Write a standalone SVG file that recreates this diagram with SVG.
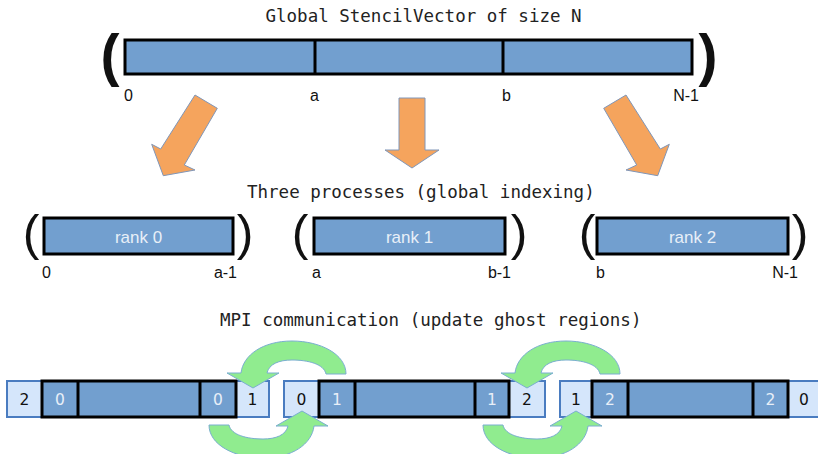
<svg xmlns="http://www.w3.org/2000/svg" width="818" height="454" viewBox="0 0 818 454">
  <style>
    .title { font-family: "DejaVu Sans Mono", monospace; font-size: 17.5px; fill: #222; }
    .lbl { font-family: "Liberation Sans", Arial, sans-serif; font-size: 16px; fill: #111; }
    .par { font-family: "Liberation Sans", Arial, sans-serif; fill: #111; text-anchor: middle; }
    .blk { fill: #729fcf; stroke: #000; stroke-width: 3; }
    .div { stroke: #000; stroke-width: 3; }
    .ghost { fill: #d5e6fb; stroke: #4a7cc0; stroke-width: 2; }
    .rtxt { font-family: "Liberation Sans", Arial, sans-serif; font-size: 17px; fill: #e8eff8; text-anchor: middle; }
    .cl { font-family: "DejaVu Sans", sans-serif; font-size: 15.5px; fill: #e8eff8; text-anchor: middle; }
    .cg { font-family: "DejaVu Sans", sans-serif; font-size: 15.5px; fill: #111; text-anchor: middle; }
    .org { fill: #f5a45d; stroke: #8096b8; stroke-width: 1; }
    .grn { fill: #90ec8f; stroke: #7aaed0; stroke-width: 1; }
  </style>
  <defs>
    <path id="swap" d="M 346,374 C 346,354 320,341 292,341 C 263,341 243,355 241,373 L 227,373 L 253,388 L 279,373 L 267,373 C 269,364 279,360 292,360 C 308,360 324,364 326,374 Z"/>
  </defs>

  <!-- titles -->
  <text class="title" x="265.5" y="22">Global StencilVector of size N</text>
  <text class="title" x="247" y="198">Three processes (global indexing)</text>
  <text class="title" x="220" y="326">MPI communication (update ghost regions)</text>

  <!-- global vector -->
  <g id="global-vector">
    <text class="par" x="110" y="75" font-size="57" font-weight="bold">(</text>
    <rect class="blk" x="125" y="40" width="567" height="34"/>
    <line class="div" x1="315" y1="40" x2="315" y2="74"/>
    <line class="div" x1="503" y1="40" x2="503" y2="74"/>
    <text class="par" x="708" y="75" font-size="57" font-weight="bold">)</text>
    <text class="lbl" x="124" y="101">0</text>
    <text class="lbl" x="310" y="101">a</text>
    <text class="lbl" x="502" y="101">b</text>
    <text class="lbl" x="699" y="101" text-anchor="end">N-1</text>
  </g>

  <!-- ranks -->
  <g id="rank0">
    <text class="par" x="31" y="249.5" font-size="50">(</text>
    <rect class="blk" x="44" y="218" width="189" height="36"/>
    <text class="rtxt" x="138.5" y="243">rank 0</text>
    <text class="par" x="245" y="249.5" font-size="50">)</text>
    <text class="lbl" x="42" y="278">0</text>
    <text class="lbl" x="237" y="278" text-anchor="end">a-1</text>
  </g>
  <g id="rank1">
    <text class="par" x="300" y="249.5" font-size="50">(</text>
    <rect class="blk" x="314" y="218" width="191" height="36"/>
    <text class="rtxt" x="409.5" y="243">rank 1</text>
    <text class="par" x="519" y="249.5" font-size="50">)</text>
    <text class="lbl" x="312" y="278">a</text>
    <text class="lbl" x="511" y="278" text-anchor="end">b-1</text>
  </g>
  <g id="rank2">
    <text class="par" x="587" y="249.5" font-size="50">(</text>
    <rect class="blk" x="597" y="218" width="191" height="36"/>
    <text class="rtxt" x="692.5" y="243">rank 2</text>
    <text class="par" x="800" y="249.5" font-size="50">)</text>
    <text class="lbl" x="596" y="278">b</text>
    <text class="lbl" x="798" y="278" text-anchor="end">N-1</text>
  </g>

  <!-- local vectors with ghosts -->
  <g id="local0">
    <rect class="ghost" x="7" y="381" width="262" height="36"/>
    <rect class="blk" x="42" y="381" width="194" height="36"/>
    <line class="div" x1="78" y1="381" x2="78" y2="417"/>
    <line class="div" x1="200" y1="381" x2="200" y2="417"/>
    <text class="cg" x="24.5" y="404.5">2</text>
    <text class="cl" x="60" y="404.5">0</text>
    <text class="cl" x="218" y="404.5">0</text>
    <text class="cg" x="252.5" y="404.5">1</text>
  </g>
  <g id="local1">
    <rect class="ghost" x="284" y="381" width="261" height="36"/>
    <rect class="blk" x="319" y="381" width="190" height="36"/>
    <line class="div" x1="355" y1="381" x2="355" y2="417"/>
    <line class="div" x1="475" y1="381" x2="475" y2="417"/>
    <text class="cg" x="301.5" y="404.5">0</text>
    <text class="cl" x="337" y="404.5">1</text>
    <text class="cl" x="492" y="404.5">1</text>
    <text class="cg" x="527" y="404.5">2</text>
  </g>
  <g id="local2">
    <rect class="ghost" x="560" y="381" width="262" height="36"/>
    <rect class="blk" x="592" y="381" width="196" height="36"/>
    <line class="div" x1="628" y1="381" x2="628" y2="417"/>
    <line class="div" x1="753" y1="381" x2="753" y2="417"/>
    <text class="cg" x="576" y="404.5">1</text>
    <text class="cl" x="610" y="404.5">2</text>
    <text class="cl" x="770.5" y="404.5">2</text>
    <text class="cg" x="804" y="404.5">0</text>
  </g>

  <!-- connectors -->
  <g id="connectors">
    <polygon class="org" points="195,95 217.3,108.3 184.3,165 195,170 163.3,175.7 151.7,144.3 160.7,149"/>
    <polygon class="org" points="399,98 425,98 425,150 439,150 412,168 385,150 399,150"/>
    <polygon class="org" points="626,95 603.7,108.3 636.7,165 626,170 657.7,175.7 669.3,144.3 660.3,149"/>
    <use href="#swap" class="grn"/>
    <use href="#swap" class="grn" transform="rotate(180 277.5 399.5)"/>
    <use href="#swap" class="grn" transform="translate(274 0)"/>
    <use href="#swap" class="grn" transform="translate(274 0) rotate(180 277.5 399.5)"/>
  </g>
</svg>
